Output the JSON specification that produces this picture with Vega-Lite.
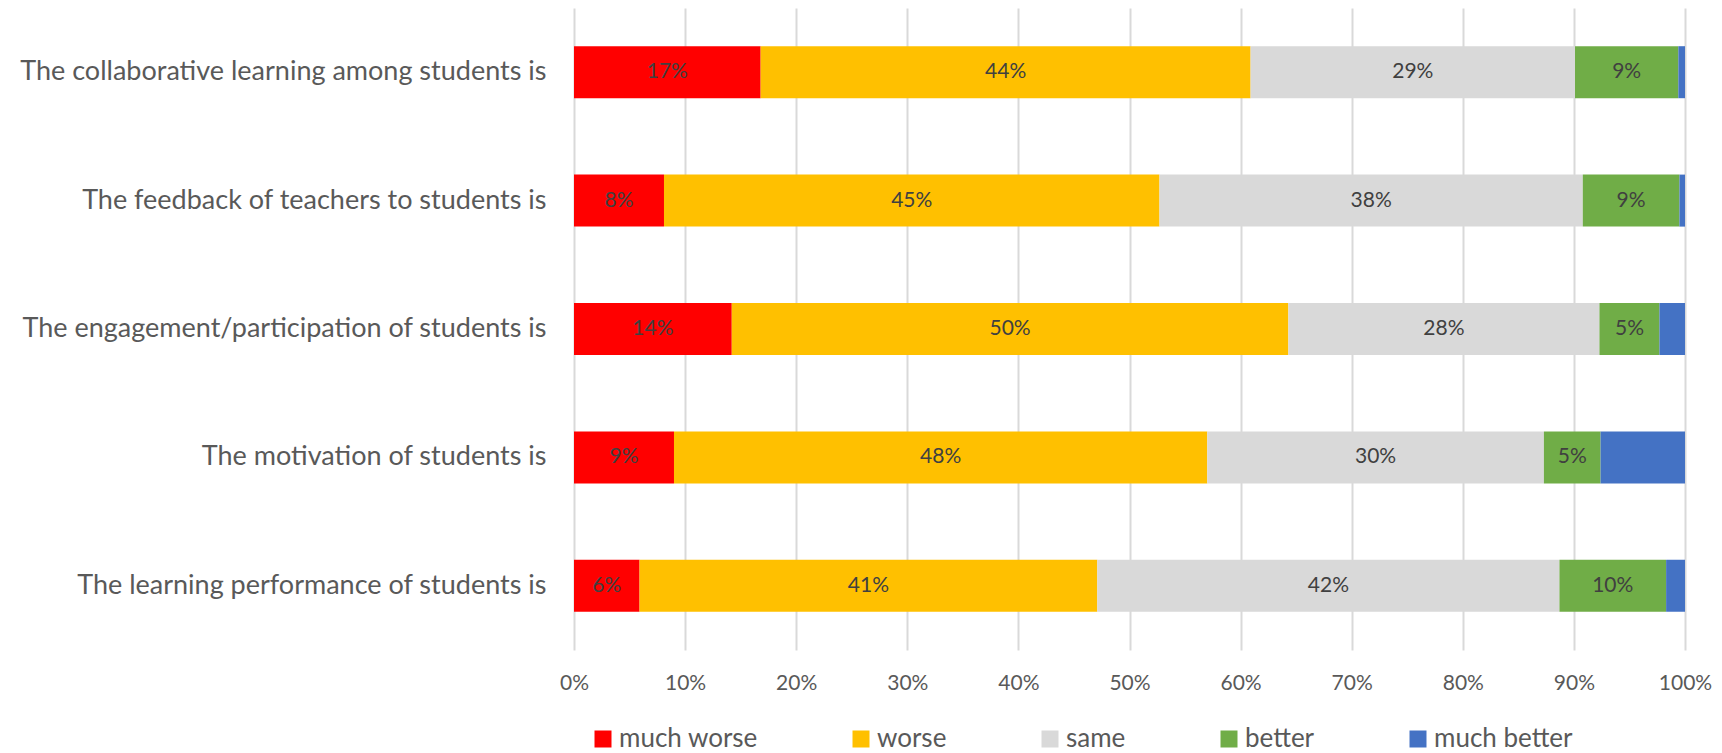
{
  "$schema": "https://vega.github.io/schema/vega-lite/v6.json",
  "width": 1111,
  "height": 642,
  "autosize": {"type": "none"},
  "padding": {"left": 574, "top": 8, "right": 37, "bottom": 103},
  "background": "white",
  "config": {"view": {"stroke": null}, "font": "Lato"},
  "data": {
    "values": [
      {"q": "The collaborative learning among students is", "cat": "much worse", "k": 1, "v": 0.168},
      {"q": "The collaborative learning among students is", "cat": "worse", "k": 2, "v": 0.441},
      {"q": "The collaborative learning among students is", "cat": "same", "k": 3, "v": 0.292},
      {"q": "The collaborative learning among students is", "cat": "better", "k": 4, "v": 0.093},
      {"q": "The collaborative learning among students is", "cat": "much better", "k": 5, "v": 0.006},
      {"q": "The feedback of teachers to students is", "cat": "much worse", "k": 1, "v": 0.081},
      {"q": "The feedback of teachers to students is", "cat": "worse", "k": 2, "v": 0.446},
      {"q": "The feedback of teachers to students is", "cat": "same", "k": 3, "v": 0.381},
      {"q": "The feedback of teachers to students is", "cat": "better", "k": 4, "v": 0.087},
      {"q": "The feedback of teachers to students is", "cat": "much better", "k": 5, "v": 0.005},
      {"q": "The engagement/participation of students is", "cat": "much worse", "k": 1, "v": 0.142},
      {"q": "The engagement/participation of students is", "cat": "worse", "k": 2, "v": 0.501},
      {"q": "The engagement/participation of students is", "cat": "same", "k": 3, "v": 0.280},
      {"q": "The engagement/participation of students is", "cat": "better", "k": 4, "v": 0.054},
      {"q": "The engagement/participation of students is", "cat": "much better", "k": 5, "v": 0.023},
      {"q": "The motivation of students is", "cat": "much worse", "k": 1, "v": 0.090},
      {"q": "The motivation of students is", "cat": "worse", "k": 2, "v": 0.480},
      {"q": "The motivation of students is", "cat": "same", "k": 3, "v": 0.303},
      {"q": "The motivation of students is", "cat": "better", "k": 4, "v": 0.051},
      {"q": "The motivation of students is", "cat": "much better", "k": 5, "v": 0.076},
      {"q": "The learning performance of students is", "cat": "much worse", "k": 1, "v": 0.059},
      {"q": "The learning performance of students is", "cat": "worse", "k": 2, "v": 0.412},
      {"q": "The learning performance of students is", "cat": "same", "k": 3, "v": 0.416},
      {"q": "The learning performance of students is", "cat": "better", "k": 4, "v": 0.096},
      {"q": "The learning performance of students is", "cat": "much better", "k": 5, "v": 0.017}
    ]
  },
  "encoding": {
    "y": {
      "field": "q",
      "type": "nominal",
      "sort": [
        "The collaborative learning among students is",
        "The feedback of teachers to students is",
        "The engagement/participation of students is",
        "The motivation of students is",
        "The learning performance of students is"
      ],
      "scale": {"paddingInner": 0.595, "paddingOuter": 0.2975},
      "axis": {
        "title": null,
        "domain": false,
        "ticks": false,
        "labelFontSize": 27,
        "labelColor": "#595959",
        "labelPadding": 28,
        "labelLimit": 700,
        "labelFont": "Lato"
      }
    }
  },
  "layer": [
    {
      "mark": {"type": "bar"},
      "encoding": {
        "x": {
          "field": "v",
          "type": "quantitative",
          "stack": "zero",
          "scale": {"domain": [0, 1], "nice": false},
          "axis": {
            "title": null,
            "format": ".0%",
            "values": [0, 0.1, 0.2, 0.3, 0.4, 0.5, 0.6, 0.7, 0.8, 0.9, 1],
            "domain": false,
            "ticks": false,
            "grid": true,
            "gridColor": "#d9d9d9",
            "gridWidth": 2,
            "labelFlush": false,
            "labelFontSize": 21,
            "labelColor": "#595959",
            "labelPadding": 22,
            "labelFont": "Lato"
          }
        },
        "color": {
          "field": "cat",
          "type": "nominal",
          "scale": {
            "domain": ["much worse", "worse", "same", "better", "much better"],
            "range": ["#ff0000", "#ffc000", "#d9d9d9", "#70ad47", "#4472c4"]
          },
          "legend": {
            "orient": "none",
            "direction": "horizontal",
            "legendX": 16,
            "legendY": 718,
            "title": null,
            "symbolType": "square",
            "symbolSize": 289,
            "symbolStrokeWidth": 0,
            "labelFontSize": 26,
            "labelColor": "#595959",
            "labelFont": "Lato",
            "columnPadding": 90,
            "labelOffset": 3
          }
        },
        "order": {"field": "k", "type": "quantitative"}
      }
    },
    {
      "transform": [{"filter": "datum.cat != 'much better'"}],
      "mark": {"type": "text", "fontSize": 21, "color": "#404040", "font": "Lato", "baseline": "middle"},
      "encoding": {
        "x": {"field": "v", "type": "quantitative", "stack": "zero", "bandPosition": 0.5},
        "detail": {"field": "cat", "type": "nominal"},
        "text": {"field": "v", "type": "quantitative", "format": ".0%"},
        "order": {"field": "k", "type": "quantitative"}
      }
    }
  ]
}
